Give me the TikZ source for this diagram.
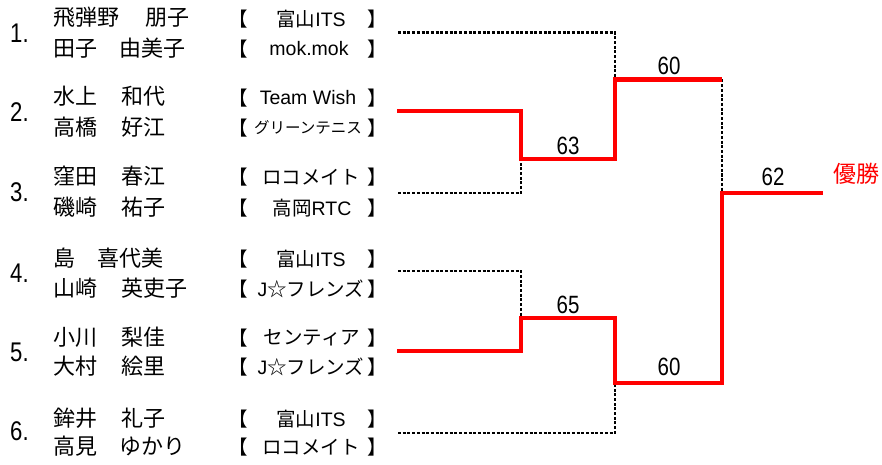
\documentclass[tikz,border=0pt]{standalone}
\usepackage{graphicx}
\usepackage{fontspec}
\setmainfont{Noto Sans CJK JP}
\newfontfamily\cjkfont{Noto Sans CJK JP}
\newfontfamily\latfont{Liberation Sans}
\definecolor{bred}{RGB}{255,0,0}
\newcommand\NUMw[1]{\scalebox{0.82}[1]{#1}}
\newcommand\LT[1]{{\latfont #1}}
\tikzset{
  nm/.style={inner sep=0pt,anchor=west,font=\cjkfont\fontsize{22}{22}\selectfont},
  seed/.style={inner sep=0pt,anchor=west,font=\latfont\fontsize{27}{27}\selectfont},
  tm/.style={inner sep=0pt,anchor=center,font=\cjkfont\fontsize{19.5}{19.5}\selectfont},
  tmsmall/.style={inner sep=0pt,anchor=center,font=\cjkfont\fontsize{15.5}{15.5}\selectfont},
  brk/.style={inner sep=0pt,anchor=center,font=\cjkfont\fontsize{19.5}{19.5}\selectfont},
  score/.style={inner sep=0pt,anchor=center,font=\latfont\fontsize{25}{25}\selectfont},
  win/.style={inner sep=0pt,anchor=center,text=bred,font=\cjkfont\fontsize{23}{23}\selectfont},
  redline/.style={draw=bred,line width=4.5pt,line join=miter},
  dotline/.style={draw=black,line width=2.3pt,dash pattern=on 3pt off 1.7pt},
}
\begin{document}
\begin{tikzpicture}[x=1pt,y=-1pt]
\useasboundingbox (0,0) rectangle (882,465);
% seed numbers
\node[seed] (s1n) at (10,33) {\NUMw{1.}};
\node[seed] (s2n) at (10,112) {\NUMw{2.}};
\node[seed] (s3n) at (10,192) {\NUMw{3.}};
\node[seed] (s4n) at (10,273) {\NUMw{4.}};
\node[seed] (s5n) at (10,352) {\NUMw{5.}};
\node[seed] (s6n) at (10,431) {\NUMw{6.}};
% names
\node[nm] (p1a) at (53,17.5) {飛弾野};  \node[nm] (p1b) at (145,17.5) {朋子};
\node[nm] (p2a) at (53,48.5) {田子};    \node[nm] (p2b) at (119,48.5) {由美子};
\node[nm] (p3a) at (53,96.5) {水上};    \node[nm] (p3b) at (121,96.5) {和代};
\node[nm] (p4a) at (53,127.5) {高橋};   \node[nm] (p4b) at (121,127.5) {好江};
\node[nm] (p5a) at (53,176) {窪田};     \node[nm] (p5b) at (121,176) {春江};
\node[nm] (p6a) at (53,207) {磯崎};     \node[nm] (p6b) at (121,207) {祐子};
\node[nm] (p7a) at (53,258.5) {島};     \node[nm] (p7b) at (97,258.5) {喜代美};
\node[nm] (p8a) at (53,288) {山崎};     \node[nm] (p8b) at (121,288) {英吏子};
\node[nm] (p9a) at (53,337) {小川};     \node[nm] (p9b) at (121,337) {梨佳};
\node[nm] (p10a) at (53,366) {大村};    \node[nm] (p10b) at (121,366) {絵里};
\node[nm] (p11a) at (53,418) {鉾井};    \node[nm] (p11b) at (121,418) {礼子};
\node[nm] (p12a) at (53,446) {高見};    \node[nm] (p12b) at (119,446) {ゆかり};
% team brackets
\foreach \i/\y in {1/19,2/49,3/98,4/128,5/177,6/208,7/259,8/289,9/338,10/367,11/419,12/447}{
  \node[brk] (lb\i) at (238,\y) {【};
  \node[brk] (rb\i) at (377,\y) {】};
}
% team names
\node[tm] (c1) at (311,19) {富山\LT{ITS}};
\node[tm] (c2) at (309,49) {\LT{mok.mok}};
\node[tm] (c3) at (308,98) {\LT{Team Wish}};
\node[tmsmall] (c4) at (308,128) {グリーンテニス};
\node[tm] (c5) at (311,177) {ロコメイト};
\node[tm] (c6) at (312,208) {高岡\LT{RTC}};
\node[tm] (c7) at (311,259) {富山\LT{ITS}};
\node[tm] (c8) at (311,289) {\LT{J}☆フレンズ};
\node[tm] (c9) at (312,338) {センティア};
\node[tm] (c10) at (311,367) {\LT{J}☆フレンズ};
\node[tm] (c11) at (311,419) {富山\LT{ITS}};
\node[tm] (c12) at (311,447) {ロコメイト};
% bracket coordinates
\coordinate (t1) at (398,32.5);  \coordinate (j1) at (615,32.5);
\coordinate (t2) at (397,111);   \coordinate (a2) at (521,111);
\coordinate (t3) at (398,193);   \coordinate (a3) at (521,193);
\coordinate (m1) at (521,159);   \coordinate (m1r) at (615,159);
\coordinate (t4) at (398,271);   \coordinate (a4) at (521,271);
\coordinate (t5) at (397,351);   \coordinate (a5) at (521,351);
\coordinate (m2) at (521,318);   \coordinate (m2r) at (615,318);
\coordinate (t6) at (398,433);   \coordinate (a6) at (615,433);
\coordinate (f1) at (615,79.5);  \coordinate (f1r) at (722,79.5);
\coordinate (f2) at (615,383);   \coordinate (f2r) at (722,383);
\coordinate (w) at (722,193);    \coordinate (wr) at (823,193);
% losing paths (dotted)
\draw[dotline] (t1) -- (j1) -- (f1);
\draw[dotline] (t3) -- (a3) -- (m1);
\draw[dotline] (t4) -- (a4) -- (m2);
\draw[dotline] (t6) -- (a6) -- (f2);
\draw[dotline] (f1r) -- (w);
% winning paths (red)
\draw[redline] (t2) -- (a2) -- (m1) -- (m1r) -- (f1) -- (f1r);
\draw[redline] (t5) -- (a5) -- (m2) -- (m2r) -- (f2) -- (f2r) -- (w) -- (wr);
% scores
\node[score] (sc63) at (568,146) {\NUMw{63}};
\node[score] (sc65) at (568,305) {\NUMw{65}};
\node[score] (sc60a) at (669,66) {\NUMw{60}};
\node[score] (sc60b) at (669,367) {\NUMw{60}};
\node[score] (sc62) at (773,177) {\NUMw{62}};
\node[win] (champ) at (856,174) {優勝};
\end{tikzpicture}
\end{document}
